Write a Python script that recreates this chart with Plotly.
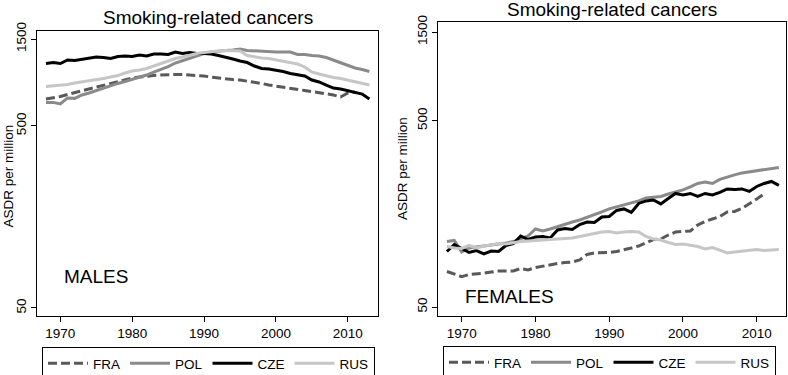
import plotly.graph_objects as go

W, H = 788, 375
FONT = "Liberation Sans, Arial, Helvetica, sans-serif"

years = list(range(1968, 2014))
years_fra = list(range(1968, 2012))
countries = ["FRA", "POL", "CZE", "RUS"]

# MALES, ASDR per million
male_fra = [703, 712, 725, 744, 762, 782, 797, 817, 838, 860, 876, 898, 916, 927, 939,
            945, 951, 957, 957, 957, 951, 951, 939, 927, 916, 910, 898, 893, 882, 866,
            855, 838, 828, 817, 807, 792, 782, 772, 762, 753, 739, 721, 758, 767]
male_pol = [673, 673, 660, 712, 708, 739, 758, 782, 807, 828, 855, 876, 898, 927, 951,
            988, 1020, 1059, 1107, 1142, 1180, 1217, 1249, 1272, 1289, 1297, 1305, 1322,
            1297, 1289, 1280, 1280, 1272, 1272, 1272, 1233, 1233, 1217, 1210, 1187, 1150,
            1114, 1079, 1040, 1020, 995]
male_cze = [1100, 1114, 1100, 1150, 1143, 1157, 1180, 1195, 1188, 1172, 1202, 1210, 1202,
            1225, 1210, 1241, 1241, 1233, 1272, 1249, 1265, 1249, 1249, 1241, 1217, 1195,
            1164, 1135, 1114, 1066, 1033, 1027, 1014, 995, 970, 951, 939, 893, 871, 838,
            807, 797, 782, 762, 748, 703]
male_rus = [822, 828, 833, 843, 860, 871, 888, 898, 910, 927, 945, 976, 1001, 1014, 1033,
            1066, 1100, 1135, 1172, 1195, 1225, 1249, 1265, 1280, 1289, 1297, 1297, 1289,
            1217, 1195, 1180, 1172, 1150, 1135, 1114, 1093, 1053, 988, 964, 939, 921, 910,
            893, 876, 860, 838]

# FEMALES, ASDR per million
female_fra = [77.6, 75.2, 72.9, 74.8, 75.2, 76.1, 77.1, 78.1, 78.1, 78.1, 80.5, 79.1, 81.5,
              83.1, 84.6, 85.7, 86.7, 87.3, 89.5, 95.8, 97.6, 97.6, 98.2, 99.4, 101.2, 103.8,
              106.4, 110.4, 115.3, 116.0, 121.9, 126.5, 127.3, 128.1, 138.0, 144.2, 148.6,
              153.3, 162.1, 163.1, 169.3, 179.0, 190.3, 202.5]
female_pol = [112.4, 113.9, 98.8, 103.8, 105.1, 106.4, 107.1, 109.1, 110.4, 112.4, 116.7,
              120.4, 131.3, 128.1, 131.3, 135.4, 139.7, 143.2, 146.8, 151.4, 156.2, 162.1,
              168.3, 172.5, 176.8, 180.1, 185.8, 192.7, 193.9, 196.4, 202.5, 207.6, 212.8,
              220.8, 230.6, 235.0, 230.6, 242.4, 250.0, 256.3, 262.7, 265.9, 269.2, 272.6,
              276.0, 281.2]
female_cze = [99.4, 108.4, 103.2, 98.2, 100.6, 96.4, 100.0, 99.4, 107.1, 109.7, 120.4, 115.3,
              119.0, 119.7, 117.5, 129.7, 132.1, 130.5, 138.8, 143.2, 142.4, 152.4, 153.3,
              165.2, 168.3, 161.1, 180.1, 185.8, 188.0, 179.0, 191.6, 203.8, 200.0, 203.8,
              196.4, 203.8, 200.0, 206.3, 215.5, 214.1, 215.5, 208.9, 222.2, 230.6, 236.4,
              225.0]
female_rus = [105.7, 103.8, 103.2, 107.1, 103.8, 106.4, 107.7, 109.7, 109.1, 111.1, 112.4,
              113.2, 113.9, 114.6, 114.6, 115.3, 116.0, 117.5, 119.7, 121.9, 124.2, 126.5,
              127.3, 125.0, 126.5, 127.3, 126.5, 119.7, 116.0, 114.6, 111.1, 108.4, 109.1,
              107.1, 105.7, 102.5, 104.5, 101.2, 97.6, 98.8, 100.0, 100.6, 101.9, 100.6,
              101.2, 101.9]

y_tickvals = [50, 500, 1500]
y_ticktext = ["50", "500", "1500"]
x_tickvals = [1970, 1980, 1990, 2000, 2010]
x_ticktext = ["1970", "1980", "1990", "2000", "2010"]
panel_title = "Smoking-related cancers"
y_title = "ASDR per million"

styles = {
    "FRA": dict(color="#595959", width=3, dash="9px,4px"),
    "POL": dict(color="#8a8a8a", width=3),
    "CZE": dict(color="#000000", width=3),
    "RUS": dict(color="#c6c6c6", width=3),
}

male = {"FRA": (years_fra, male_fra), "POL": (years, male_pol),
        "CZE": (years, male_cze), "RUS": (years, male_rus)}
female = {"FRA": (years_fra, female_fra), "POL": (years, female_pol),
          "CZE": (years, female_cze), "RUS": (years, female_rus)}

fig = go.Figure()
for c in countries:
    xs, ys = male[c]
    fig.add_trace(go.Scatter(x=xs, y=ys, mode="lines", name=c, line=styles[c],
                             xaxis="x", yaxis="y", legend="legend", hoverinfo="skip"))
for c in countries:
    xs, ys = female[c]
    fig.add_trace(go.Scatter(x=xs, y=ys, mode="lines", name=c, line=styles[c],
                             xaxis="x2", yaxis="y2", legend="legend2", hoverinfo="skip"))


def px(x):
    return x / W


def py(y):
    return 1 - y / H


tickfont = dict(family=FONT, size=13.5, color="#000")
common_x = dict(tickvals=x_tickvals, ticktext=x_ticktext, ticks="outside", ticklen=5,
                tickcolor="#000", showline=True, linecolor="#000", linewidth=1,
                mirror=True, showgrid=False, zeroline=False, tickfont=tickfont,
                automargin=False)
common_y = dict(type="log", tickvals=y_tickvals, ticktext=y_ticktext, ticks="outside",
                ticklen=5, tickcolor="#000", showline=True, linecolor="#000", linewidth=1,
                mirror=True, showgrid=False, zeroline=False, tickangle=-90, tickfont=tickfont,
                automargin=False)

legend_common = dict(orientation="h", bgcolor="#fff", bordercolor="#000", borderwidth=1,
                     font=dict(family=FONT, size=13.5, color="#000"), xanchor="left",
                     yanchor="top", itemwidth=40, itemclick=False, itemdoubleclick=False,
                     tracegroupgap=0)

fig.update_layout(
    width=W, height=H, margin=dict(l=0, r=0, t=0, b=0, autoexpand=False),
    paper_bgcolor="#fff", plot_bgcolor="#fff",
    font=dict(family=FONT, color="#000"),
    hovermode=False,
    xaxis=dict(domain=[px(37), px(378)], range=[1966.75, 2014.2], anchor="y", **common_x),
    yaxis=dict(domain=[py(316), py(31)], range=[1.655, 3.220], anchor="x", **common_y),
    xaxis2=dict(domain=[px(438), px(786)], range=[1966.79, 2013.97], anchor="y2", **common_x),
    yaxis2=dict(domain=[py(316), py(22)], range=[1.651, 3.230], anchor="x2", **common_y),
    legend=dict(x=px(42), y=py(347), **legend_common),
    legend2=dict(x=px(443), y=py(346), **legend_common),
    showlegend=True,
)

ann = [
    dict(text=panel_title, x=px(207.5), y=py(17.5), font=dict(size=19)),
    dict(text=panel_title, x=px(612), y=py(10), font=dict(size=19)),
    dict(text="MALES", x=px(61.7), y=py(276.7), xanchor="left", font=dict(size=19)),
    dict(text="FEMALES", x=px(463.3), y=py(296.7), xanchor="left", font=dict(size=19)),
    dict(text=y_title, x=px(7.5), y=py(176), textangle=-90, font=dict(size=13.5)),
    dict(text=y_title, x=px(402), y=py(169), textangle=-90, font=dict(size=13.5)),
]
for a in ann:
    a.setdefault("xanchor", "center")
    a.update(xref="paper", yref="paper", yanchor="middle", showarrow=False)
    a["font"] = dict(family=FONT, color="#000", **a["font"])
    fig.add_annotation(**a)

fig.write_html("out.html",
               config={"displayModeBar": False, "staticPlot": True},
               post_script="document.body.style.margin='0';document.body.style.overflow='hidden';")
